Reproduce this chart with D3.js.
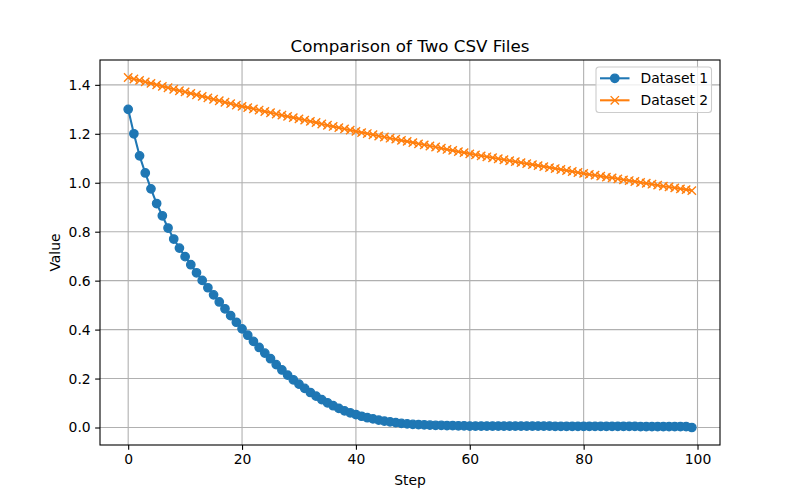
<!DOCTYPE html>
<html>
    <head>
        <meta charset='utf-8'>
        <script src="https://d3js.org/d3.v7.min.js"></script>
        <style>
            body { margin: 0; background: white; }
            text { font-family: "DejaVu Sans", sans-serif; fill: black; }
            .grid line { stroke: #b0b0b0; stroke-width: 1.1; }
        </style>
    </head>
    <body>
        <script>

            var width = 800, height = 500;
            var left = 100, right = 720, top_ = 60, bottom = 445;

            var steps = d3.range(0, 100);
            var dataset1 = [1.300, 1.200, 1.110, 1.040, 0.975, 0.915, 0.865, 0.815, 0.770, 0.733,
                            0.698, 0.665, 0.632, 0.601, 0.571, 0.542, 0.513, 0.485, 0.457, 0.430,
                            0.403, 0.377, 0.352, 0.327, 0.304, 0.281, 0.257, 0.235, 0.214, 0.195,
                            0.177, 0.160, 0.143, 0.128, 0.114, 0.101, 0.089, 0.078, 0.068, 0.060,
                            0.053, 0.046, 0.040, 0.035, 0.030, 0.026, 0.023, 0.020, 0.017, 0.015,
                            0.013, 0.012, 0.011, 0.010, 0.009, 0.009, 0.008, 0.008, 0.007, 0.007,
                            0.006, 0.006, 0.006, 0.006, 0.006, 0.006, 0.006, 0.006, 0.006, 0.006,
                            0.006, 0.006, 0.006, 0.006, 0.006, 0.005, 0.005, 0.005, 0.005, 0.005,
                            0.005, 0.005, 0.005, 0.005, 0.005, 0.005, 0.005, 0.005, 0.005, 0.005,
                            0.004, 0.004, 0.004, 0.004, 0.004, 0.004, 0.004, 0.004, 0.004, 0.000];
            var dataset2 = [1.430, 1.424, 1.418, 1.412, 1.406, 1.400, 1.394, 1.388, 1.382, 1.376,
                            1.371, 1.365, 1.359, 1.353, 1.347, 1.341, 1.335, 1.329, 1.323, 1.317,
                            1.312, 1.307, 1.302, 1.297, 1.291, 1.286, 1.281, 1.276, 1.271, 1.266,
                            1.261, 1.256, 1.251, 1.246, 1.240, 1.235, 1.230, 1.225, 1.220, 1.215,
                            1.210, 1.205, 1.201, 1.196, 1.191, 1.187, 1.182, 1.178, 1.173, 1.169,
                            1.164, 1.159, 1.155, 1.150, 1.146, 1.141, 1.136, 1.132, 1.127, 1.123,
                            1.118, 1.114, 1.110, 1.106, 1.102, 1.098, 1.094, 1.090, 1.086, 1.082,
                            1.078, 1.074, 1.070, 1.066, 1.062, 1.058, 1.054, 1.050, 1.046, 1.042,
                            1.038, 1.034, 1.031, 1.027, 1.023, 1.020, 1.016, 1.012, 1.009, 1.005,
                            1.001, 0.998, 0.994, 0.990, 0.986, 0.983, 0.979, 0.975, 0.972, 0.968];
            var xTicks = [0, 20, 40, 60, 80, 100];
            var yTicks = [0.0, 0.2, 0.4, 0.6, 0.8, 1.0, 1.2, 1.4];
            var seriesNames = ["Dataset 1", "Dataset 2"];
            var colors = ["#1f77b4", "#ff7f0e"];

            var svg = d3.select('body')
                        .append('svg')
                        .attr('width', width)
                        .attr('height', height);

            // matplotlib style 5% margins
            var xMin = d3.min(steps), xMax = d3.max(steps);
            var xPad = (xMax - xMin) * 0.05;
            var allY = dataset1.concat(dataset2);
            var yMin = d3.min(allY), yMax = d3.max(allY);
            var yPad = (yMax - yMin) * 0.05;

            var x = d3.scaleLinear().domain([xMin - xPad, xMax + xPad]).range([left, right]);
            var y = d3.scaleLinear().domain([yMin - yPad, yMax + yPad]).range([bottom, top_]);

            // grid
            var grid = svg.append('g').attr('class', 'grid');
            grid.selectAll('.gx').data(xTicks).enter().append('line')
                .attr('x1', d => x(d)).attr('x2', d => x(d))
                .attr('y1', top_).attr('y2', bottom);
            grid.selectAll('.gy').data(yTicks).enter().append('line')
                .attr('y1', d => y(d)).attr('y2', d => y(d))
                .attr('x1', left).attr('x2', right);

            svg.append('clipPath').attr('id', 'clip')
                .append('rect').attr('x', left).attr('y', top_)
                .attr('width', right - left).attr('height', bottom - top_);

            var plot = svg.append('g').attr('clip-path', 'url(#clip)');

            var line = d3.line().x((d, i) => x(steps[i])).y(d => y(d));

            // dataset 1: line + circles
            plot.append('path').datum(dataset1)
                .attr('d', line)
                .attr('fill', 'none')
                .attr('stroke', colors[0])
                .attr('stroke-width', 2.08)
                .attr('stroke-linejoin', 'round');
            plot.selectAll('.m1').data(dataset1).enter().append('circle')
                .attr('cx', (d, i) => x(steps[i]))
                .attr('cy', d => y(d))
                .attr('r', 4.17)
                .attr('fill', colors[0])
                .attr('stroke', colors[0])
                .attr('stroke-width', 1.39);

            // dataset 2: line + x markers
            plot.append('path').datum(dataset2)
                .attr('d', line)
                .attr('fill', 'none')
                .attr('stroke', colors[1])
                .attr('stroke-width', 2.08)
                .attr('stroke-linejoin', 'round');
            var xm = 4.17;
            function crossPath(cx, cy) {
                return 'M' + (cx - xm) + ',' + (cy - xm) + 'L' + (cx + xm) + ',' + (cy + xm) +
                       'M' + (cx - xm) + ',' + (cy + xm) + 'L' + (cx + xm) + ',' + (cy - xm);
            }
            plot.selectAll('.m2').data(dataset2).enter().append('path')
                .attr('d', (d, i) => crossPath(x(steps[i]), y(d)))
                .attr('stroke', colors[1])
                .attr('stroke-width', 1.39)
                .attr('fill', 'none');

            // axes
            var xAxis = d3.axisBottom(x).tickValues(xTicks).tickSize(4.86).tickPadding(4.5)
                .tickFormat(d3.format('d'));
            var yAxis = d3.axisLeft(y).tickValues(yTicks).tickSize(4.86).tickPadding(4.5)
                .tickFormat(d3.format('.1f'));

            var gx = svg.append('g').attr('transform', 'translate(0,' + bottom + ')').call(xAxis);
            var gy = svg.append('g').attr('transform', 'translate(' + left + ',0)').call(yAxis);
            [gx, gy].forEach(function(g) {
                g.select('.domain').remove();
                g.selectAll('.tick line').attr('stroke', 'black').attr('stroke-width', 1.1);
                g.selectAll('.tick text').style('font-size', '13.9px')
                    .style('font-family', '"DejaVu Sans", sans-serif').attr('fill', 'black');
            });

            // frame
            svg.append('rect')
                .attr('x', left).attr('y', top_)
                .attr('width', right - left).attr('height', bottom - top_)
                .attr('fill', 'none').attr('stroke', 'black').attr('stroke-width', 1.1);

            // labels
            svg.append('text')
                .attr('x', (left + right) / 2).attr('y', 52)
                .attr('text-anchor', 'middle')
                .style('font-size', '16.7px')
                .text('Comparison of Two CSV Files');
            svg.append('text')
                .attr('x', (left + right) / 2).attr('y', 485)
                .attr('text-anchor', 'middle')
                .style('font-size', '13.9px')
                .text('Step');
            svg.append('text')
                .attr('transform', 'translate(60,' + ((top_ + bottom) / 2) + ') rotate(-90)')
                .attr('text-anchor', 'middle')
                .style('font-size', '13.9px')
                .text('Value');

            // legend
            var legend = svg.append('g').attr('transform', 'translate(596,67)');
            legend.append('rect')
                .attr('width', 115.5).attr('height', 45.5)
                .attr('rx', 3).attr('ry', 3)
                .attr('fill', 'white').attr('fill-opacity', 0.8)
                .attr('stroke', '#cccccc').attr('stroke-width', 1.1);
            var rows = legend.selectAll('.row').data(seriesNames).enter().append('g')
                .attr('transform', (d, i) => 'translate(0,' + (11.3 + i * 22) + ')');
            rows.append('line')
                .attr('x1', 4).attr('x2', 33.5)
                .attr('stroke', (d, i) => colors[i]).attr('stroke-width', 2.08);
            rows.filter((d, i) => i === 0).append('circle')
                .attr('cx', 18.8).attr('cy', 0).attr('r', 4.17).attr('fill', colors[0])
                .attr('stroke', colors[0]).attr('stroke-width', 1.39);
            rows.filter((d, i) => i === 1).append('path')
                .attr('d', crossPath(18.8, 0))
                .attr('stroke', colors[1]).attr('stroke-width', 1.39);
            rows.append('text')
                .attr('x', 44.5).attr('y', 5)
                .style('font-size', '13.9px')
                .text(d => d);

        </script>
    </body>
</html>
